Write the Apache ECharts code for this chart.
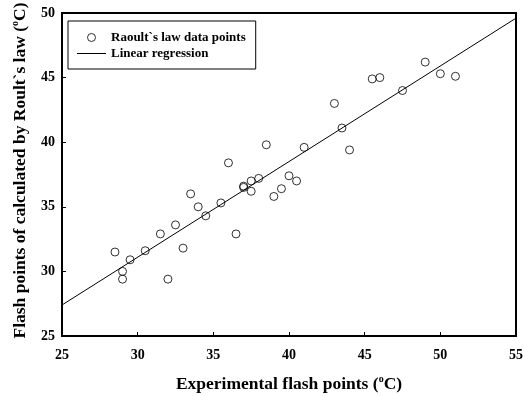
<!DOCTYPE html>
<html>
<head>
<meta charset="utf-8">
<script src="https://cdn.jsdelivr.net/npm/echarts@6/dist/echarts.min.js"></script>
<style>html,body{margin:0;padding:0;background:#fff;}#c{width:523px;height:396px;}</style>
</head>
<body>
<div id="c"></div>
<script>
// Experimental flash points (x) and Raoult's-law calculated flash points (y)
const expFlash = [28.5, 29, 29, 29.5, 30.5, 31.5, 32, 32.5, 33, 33.5, 34, 34.5, 35.5, 36, 36.5, 37, 37, 37.5, 37.5, 38, 38.5, 39, 39.5, 40, 40.5, 41, 43, 43.5, 44, 45.5, 46, 47.5, 49, 50, 51];
const calcFlash = [31.5, 30.0, 29.4, 30.9, 31.6, 32.9, 29.4, 33.6, 31.8, 36.0, 35.0, 34.3, 35.3, 38.4, 32.9, 36.6, 36.5, 37.0, 36.2, 37.2, 39.8, 35.8, 36.4, 37.4, 37.0, 39.6, 43.0, 41.1, 39.4, 44.9, 45.0, 44.0, 46.2, 45.3, 45.1];
// Linear regression
const regSlope = 0.74;
const regIntercept = 8.9;
const xRange = [25, 55];
const yRange = [25, 50];
const tickStep = 5;

const pts = expFlash.map((x, i) => [x, calcFlash[i]]);
const regLine = xRange.map(x => [x, regSlope * x + regIntercept]);

const FONT = "'Liberation Serif','Times New Roman',serif";
const chart = echarts.init(document.getElementById('c'), null, {renderer: 'canvas'});
const supRich = {
  sup: {fontSize: 10, fontWeight: 'bold', fontFamily: FONT, color: '#000', verticalAlign: 'top', lineHeight: 5},
  n: {fontSize: 17.5, fontWeight: 'bold', fontFamily: FONT, color: '#000', lineHeight: 20}
};
chart.setOption({
  animation: false,
  backgroundColor: '#fff',
  grid: {left: 62, right: 7, top: 13, bottom: 60, outerBoundsMode: 'none', containLabel: false, show: true, borderColor: '#000', borderWidth: 2, backgroundColor: 'transparent'},
  legend: {
    left: 68, top: 21, orient: 'vertical',
    borderColor: '#000', borderWidth: 1, borderRadius: 0,
    padding: [10, 10, 9, 9], itemGap: 3,
    itemWidth: 29, itemHeight: 8,
    textStyle: {fontFamily: FONT, fontWeight: 'bold', fontSize: 13, color: '#000'},
    data: [
      {name: 'Raoult`s law data points', icon: 'circle', itemStyle: {color: 'rgba(255,255,255,0)', borderColor: '#000', borderWidth: 1}},
      {name: 'Linear regression', icon: 'path://M0,0 L29,0 L29,1 L0,1 Z', itemStyle: {color: '#000', borderWidth: 0}}
    ]
  },
  xAxis: {
    type: 'value', min: xRange[0], max: xRange[1], interval: tickStep,
    name: '{n|Experimental flash points (}{sup|o}{n|C)}',
    nameLocation: 'middle', nameGap: 38,
    nameTextStyle: {rich: supRich},
    axisLine: {show: true, lineStyle: {color: '#000', width: 2}},
    axisTick: {show: true, inside: true, length: 4, lineStyle: {color: '#000', width: 1}},
    axisLabel: {margin: 12, fontFamily: FONT, fontWeight: 'bold', fontSize: 14, color: '#000'},
    splitLine: {show: false}
  },
  yAxis: {
    type: 'value', min: yRange[0], max: yRange[1], interval: tickStep,
    name: '{n|Flash points of calculated by Roult`s law (}{sup|o}{n|C)}',
    nameLocation: 'middle', nameGap: 32, nameRotate: 90,
    nameTextStyle: {rich: supRich, padding: [0, 0, 0, 8]},
    axisLine: {show: true, lineStyle: {color: '#000', width: 2}},
    axisTick: {show: true, inside: true, length: 4, lineStyle: {color: '#000', width: 1}},
    axisLabel: {margin: 7, fontFamily: FONT, fontWeight: 'bold', fontSize: 14, color: '#000'},
    splitLine: {show: false}
  },
  series: [
    {
      name: 'Raoult`s law data points', type: 'scatter', data: pts,
      symbol: 'circle', symbolSize: 8,
      itemStyle: {color: 'rgba(255,255,255,0)', borderColor: '#000', borderWidth: 1},
      z: 3
    },
    {
      name: 'Linear regression', type: 'line', data: regLine,
      symbol: 'none', showSymbol: false,
      lineStyle: {color: '#000', width: 1},
      itemStyle: {color: '#000'},
      z: 2
    }
  ]
});
</script>
</body>
</html>
